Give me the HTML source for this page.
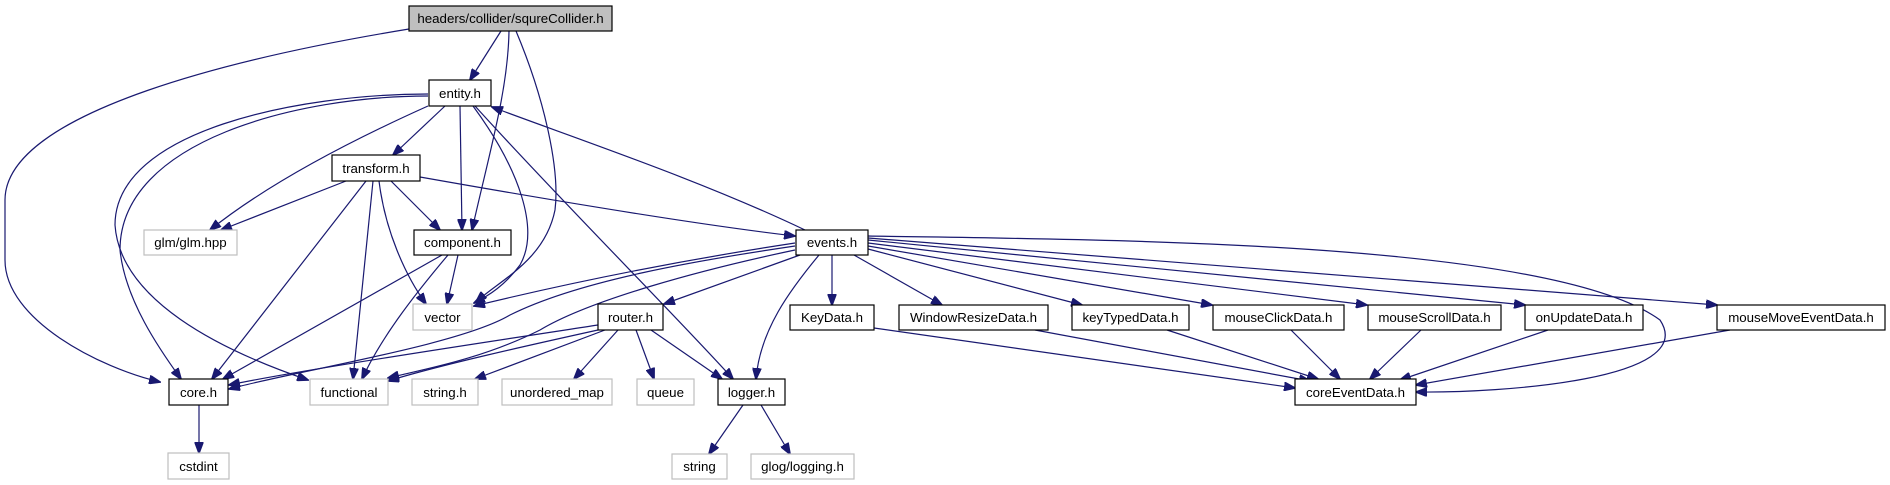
<!DOCTYPE html>
<html><head><meta charset="utf-8"><style>
html,body{margin:0;padding:0;background:#fff;}
svg{display:block;}
text{font-family:"Liberation Sans",Arial,sans-serif;font-size:13.3px;fill:#000;text-anchor:middle;}
.b{fill:#fff;stroke:#000;stroke-width:1.2;}
.g{fill:#fff;stroke:#bfbfbf;stroke-width:1.2;}
.e{fill:none;stroke:#191970;stroke-width:1.2;}
</style></head><body>
<svg width="1890" height="485" viewBox="0 0 1890 485" xmlns="http://www.w3.org/2000/svg">
<defs>
<marker id="a" markerWidth="12" markerHeight="9" refX="11" refY="4.5" orient="auto" markerUnits="userSpaceOnUse">
<path d="M0,0 L12,4.5 L0,9 z" fill="#191970" stroke="#191970"/>
</marker>
</defs>
<g marker-end="url(#a)">
<path class="e" d="M409,29 C250,55 5,110 5,200 L5,260 C5,320 100,368 160,382"/>
<path class="e" d="M501,31 L470,80"/>
<path class="e" d="M509,31 C508,90 490,150 472,230"/>
<path class="e" d="M516,31 C545,100 560,170 555,210 C545,260 500,280 476,302"/>
<path class="e" d="M445,106 L393,155"/>
<path class="e" d="M460,106 L462,230"/>
<path class="e" d="M428,106 C330,150 260,190 210,230"/>
<path class="e" d="M428,96 C300,96 120,140 120,250 C125,300 160,350 181,379"/>
<path class="e" d="M428,94 C300,94 115,130 115,225 C120,300 220,350 308,380"/>
<path class="e" d="M473,106 C520,170 540,230 520,265 C505,285 490,295 474,303"/>
<path class="e" d="M475,106 C560,200 680,320 733,379"/>
<path class="e" d="M805,230 C700,180 580,140 492,107"/>
<path class="e" d="M346,181 L221,230"/>
<path class="e" d="M366,181 L212,379"/>
<path class="e" d="M373,181 L353,379"/>
<path class="e" d="M379,181 C385,230 405,275 426,304"/>
<path class="e" d="M391,181 L440,230"/>
<path class="e" d="M420,177 C550,200 700,225 795,236"/>
<path class="e" d="M442,255 L223,379"/>
<path class="e" d="M448,255 C410,300 380,340 362,379"/>
<path class="e" d="M458,255 L447,304"/>
<path class="e" d="M795,243 C650,265 540,290 474,306"/>
<path class="e" d="M795,246 C700,260 580,280 510,315 C460,345 300,370 229,389"/>
<path class="e" d="M795,250 C700,270 590,300 540,330 C480,360 420,370 388,378"/>
<path class="e" d="M800,255 L664,304"/>
<path class="e" d="M819,255 C790,290 760,330 756,379"/>
<path class="e" d="M832,255 L832,305"/>
<path class="e" d="M854,255 L942,305"/>
<path class="e" d="M868,249 L1082,305"/>
<path class="e" d="M868,246 L1212,305"/>
<path class="e" d="M868,243 L1367,305"/>
<path class="e" d="M868,240 L1525,305"/>
<path class="e" d="M868,238 L1717,305"/>
<path class="e" d="M868,236 C1100,240 1550,240 1660,320 C1700,380 1500,393 1416,392"/>
<path class="e" d="M598,325 C500,340 300,370 229,385"/>
<path class="e" d="M598,330 C530,345 440,365 388,381"/>
<path class="e" d="M651,330 L722,379"/>
<path class="e" d="M636,330 L654,379"/>
<path class="e" d="M618,330 L574,379"/>
<path class="e" d="M605,330 L475,379"/>
<path class="e" d="M743,405 L709,454"/>
<path class="e" d="M761,405 L790,454"/>
<path class="e" d="M199,405 L199,453"/>
<path class="e" d="M874,328 L1295,388"/>
<path class="e" d="M1035,330 L1310,381"/>
<path class="e" d="M1167,330 L1318,379"/>
<path class="e" d="M1291,330 L1340,379"/>
<path class="e" d="M1421,330 L1370,379"/>
<path class="e" d="M1548,330 L1400,380"/>
<path class="e" d="M1730,330 L1416,385"/>
</g>
<rect x="409" y="6" width="203" height="25" fill="#bfbfbf" stroke="#000" stroke-width="1.2"/><text x="510.5" y="23">headers/collider/squreCollider.h</text>
<rect class="b" x="429" y="80" width="62" height="26"/><text x="460" y="98">entity.h</text>
<rect class="b" x="332" y="155" width="88" height="26"/><text x="376" y="173">transform.h</text>
<rect class="g" x="144" y="230" width="93" height="25"/><text x="190.5" y="247">glm/glm.hpp</text>
<rect class="b" x="414" y="230" width="97" height="25"/><text x="462.5" y="247">component.h</text>
<rect class="b" x="796" y="230" width="72" height="25"/><text x="832" y="247">events.h</text>
<rect class="g" x="413" y="304" width="59" height="26"/><text x="442.5" y="322">vector</text>
<rect class="b" x="598" y="304" width="65" height="26"/><text x="630.5" y="322">router.h</text>
<rect class="b" x="790" y="305" width="84" height="25"/><text x="832" y="322">KeyData.h</text>
<rect class="b" x="899" y="305" width="149" height="25"/><text x="973.5" y="322">WindowResizeData.h</text>
<rect class="b" x="1072" y="305" width="117" height="25"/><text x="1130.5" y="322">keyTypedData.h</text>
<rect class="b" x="1213" y="305" width="131" height="25"/><text x="1278.5" y="322">mouseClickData.h</text>
<rect class="b" x="1368" y="305" width="133" height="25"/><text x="1434.5" y="322">mouseScrollData.h</text>
<rect class="b" x="1525" y="305" width="118" height="25"/><text x="1584" y="322">onUpdateData.h</text>
<rect class="b" x="1717" y="305" width="168" height="25"/><text x="1801" y="322">mouseMoveEventData.h</text>
<rect class="b" x="169" y="379" width="59" height="26"/><text x="198.5" y="397">core.h</text>
<rect class="g" x="310" y="379" width="78" height="26"/><text x="349" y="397">functional</text>
<rect class="g" x="412" y="379" width="66" height="26"/><text x="445" y="397">string.h</text>
<rect class="g" x="502" y="379" width="110" height="26"/><text x="557" y="397">unordered_map</text>
<rect class="g" x="637" y="379" width="57" height="26"/><text x="665.5" y="397">queue</text>
<rect class="b" x="718" y="379" width="67" height="26"/><text x="751.5" y="397">logger.h</text>
<rect class="b" x="1295" y="379" width="121" height="26"/><text x="1355.5" y="397">coreEventData.h</text>
<rect class="g" x="168" y="453" width="61" height="26"/><text x="198.5" y="471">cstdint</text>
<rect class="g" x="672" y="454" width="55" height="25"/><text x="699.5" y="471">string</text>
<rect class="g" x="751" y="454" width="103" height="25"/><text x="802.5" y="471">glog/logging.h</text>
</svg>
</body></html>
